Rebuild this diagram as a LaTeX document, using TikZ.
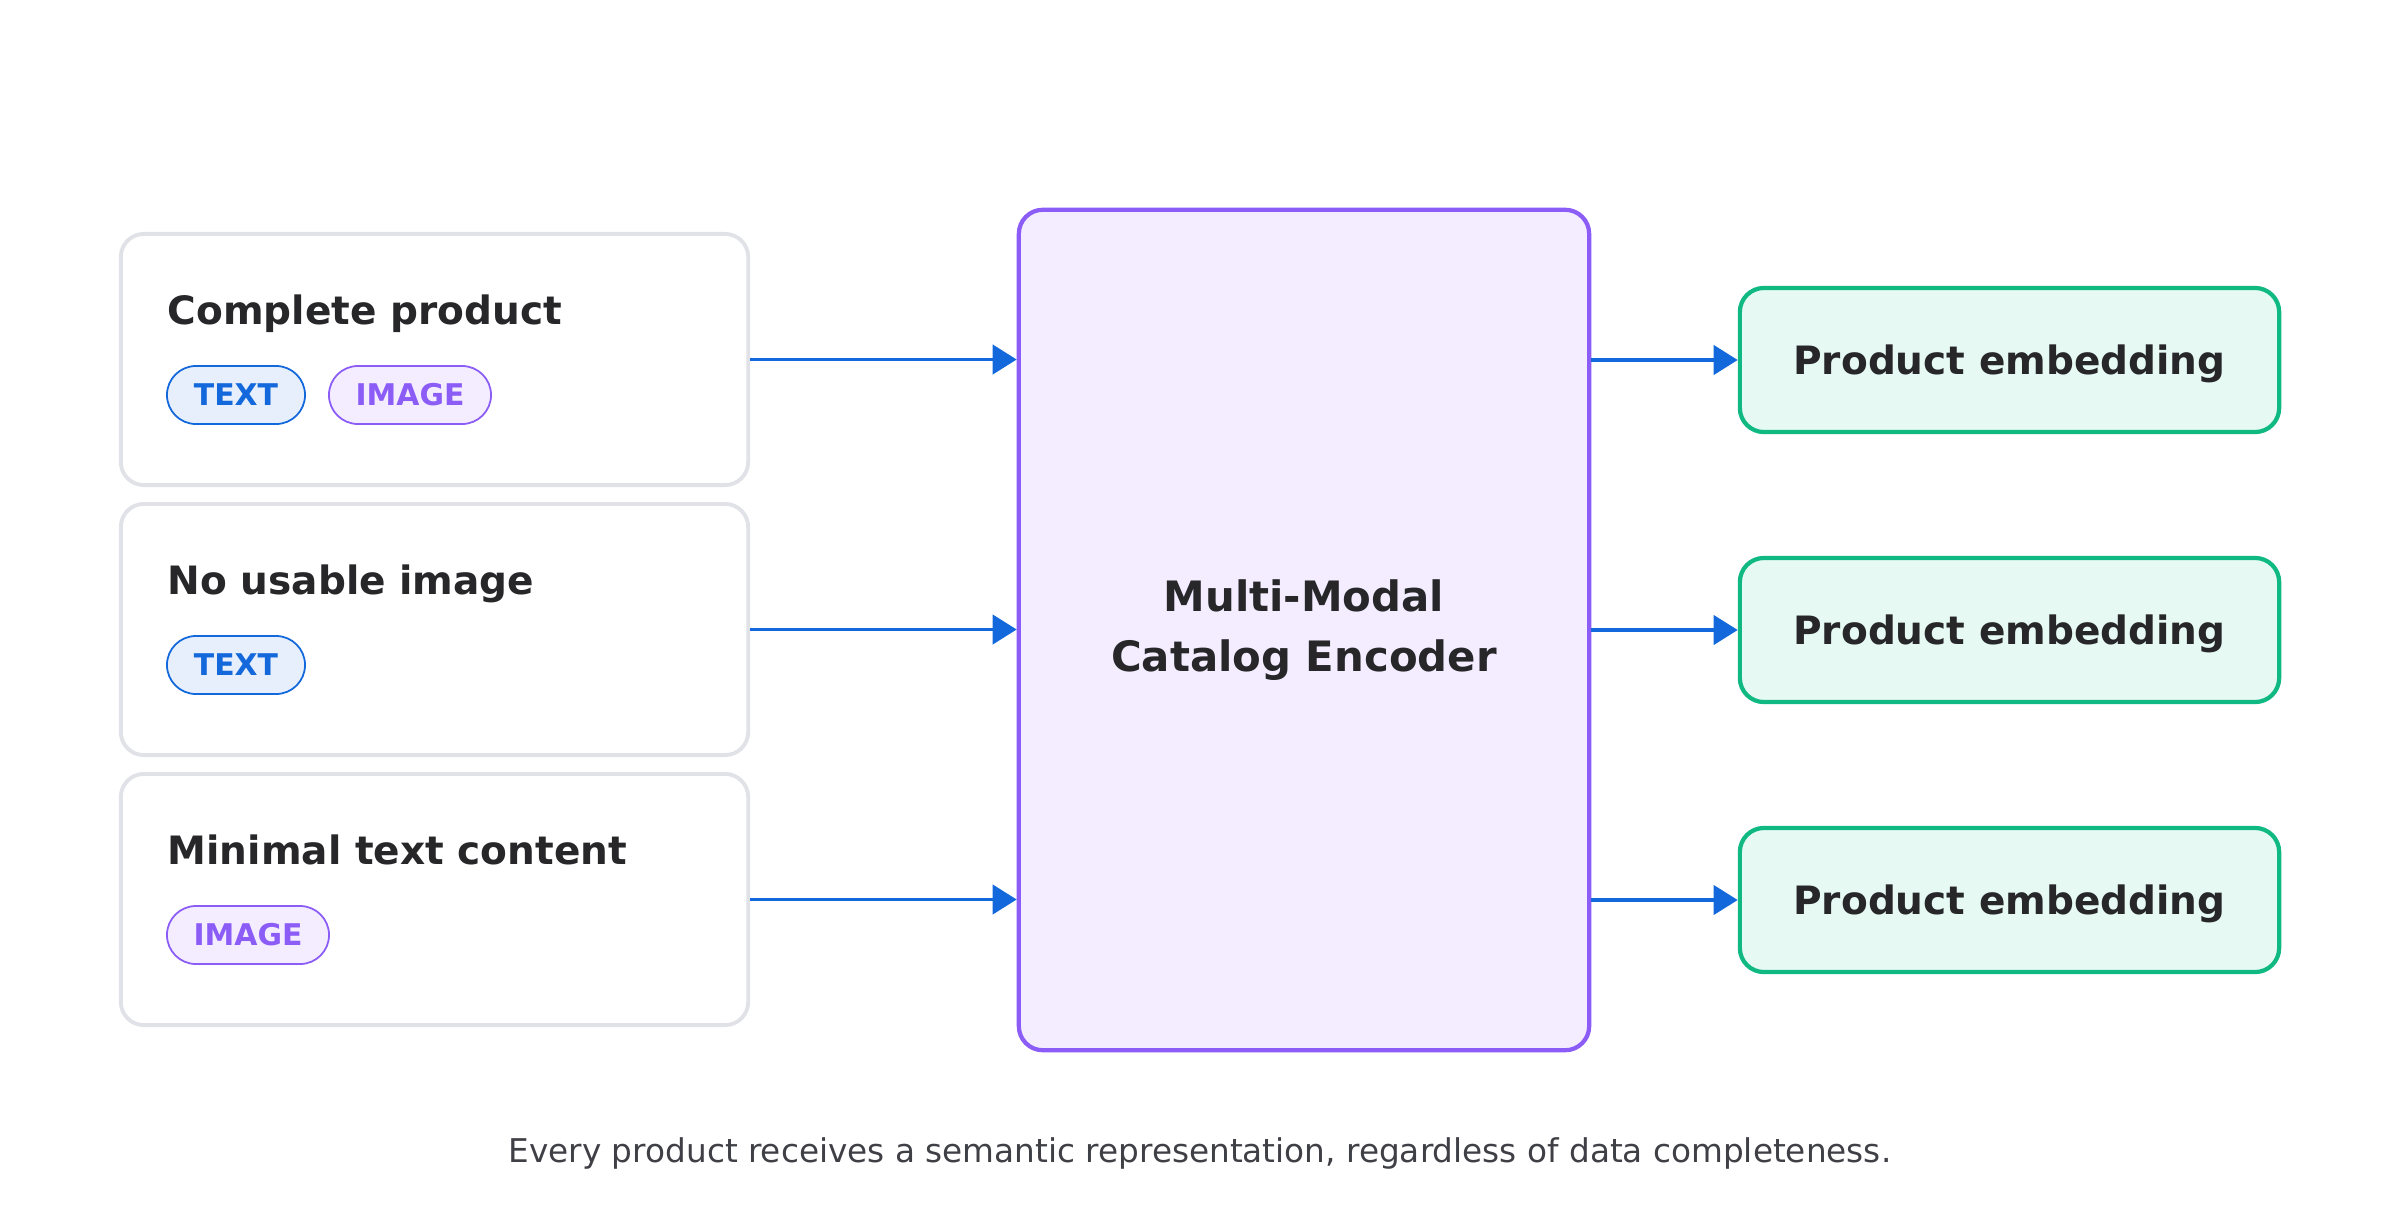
\documentclass[tikz,border=0pt]{standalone}
\usepackage{fontspec}
\setmainfont{DejaVu Sans}
\usepackage{tikz}
\usetikzlibrary{arrows.meta}
\definecolor{inkdark}{RGB}{39,39,42}
\definecolor{capgray}{RGB}{63,63,70}
\definecolor{boxgray}{RGB}{224,226,231}
\definecolor{flowblue}{RGB}{19,104,219}
\definecolor{tagbluefill}{RGB}{230,239,251}
\definecolor{encpurple}{RGB}{139,92,246}
\definecolor{encfill}{RGB}{243,237,255}
\definecolor{embgreen}{RGB}{16,185,129}
\definecolor{embfill}{RGB}{230,250,243}

\begin{document}
\begin{tikzpicture}[x=0.01cm,y=-0.01cm,
  inbox/.style={draw=boxgray,line width=1.1pt,fill=white,rounded corners=0.23cm,minimum width=6.27cm,minimum height=2.51cm},
  title/.style={inkdark,font=\fontsize{11.1}{13}\selectfont\bfseries,anchor=base west,inner sep=0pt},
  pill/.style={line width=0.5pt,rounded corners=0.29cm,minimum height=0.58cm,inner sep=0pt,font=\fontsize{8.5}{10}\selectfont\bfseries},
  texttag/.style={pill,draw=flowblue,fill=tagbluefill,text=flowblue,minimum width=1.38cm},
  imagetag/.style={pill,draw=encpurple,fill=encfill,text=encpurple,minimum width=1.62cm},
  encoder/.style={draw=encpurple,fill=encfill,line width=1.2pt,rounded corners=0.24cm,minimum width=5.7cm,minimum height=8.4cm,align=center,text=inkdark,font=\fontsize{11.9}{17}\selectfont\bfseries},
  embed/.style={draw=embgreen,fill=embfill,line width=1.2pt,rounded corners=0.24cm,minimum width=5.39cm,minimum height=1.44cm,text depth=0pt,text=inkdark,font=\fontsize{11.1}{13}\selectfont\bfseries},
  flow/.style={flowblue,line width=1.1pt,-{Triangle[length=0.24cm,width=0.29cm]}}]
  \useasboundingbox (0,0) rectangle (2400,1230);
  % input cases
  \node[inbox] (in1) at (434.5,359.5) {};
  \node[inbox] (in2) at (434.5,629.5) {};
  \node[inbox] (in3) at (434.5,899.5) {};
  \node[title] (t1) at (167,324) {Complete product};
  \node[title] (t2) at (167,594) {No usable image};
  \node[title] (t3) at (167,864) {Minimal text content};
  \node[texttag] (tag1a) at (236,395) {TEXT};
  \node[imagetag] (tag1b) at (410,395) {IMAGE};
  \node[texttag] (tag2a) at (236,665) {TEXT};
  \node[imagetag] (tag3a) at (248,935) {IMAGE};
  % encoder
  \node[encoder] (enc) at (1304,630) {Multi-Modal\\Catalog Encoder};
  % outputs
  \node[embed] (out1) at (2009.5,360) {Product embedding};
  \node[embed] (out2) at (2009.5,630) {Product embedding};
  \node[embed] (out3) at (2009.5,900) {Product embedding};
  % arrows
  \draw[flow] (in1.east) -- (in1.east -| enc.west);
  \draw[flow] (in2.east) -- (in2.east -| enc.west);
  \draw[flow] (in3.east) -- (in3.east -| enc.west);
  \draw[flow] (enc.east |- out1.west) -- (out1.west);
  \draw[flow] (enc.east |- out2.west) -- (out2.west);
  \draw[flow] (enc.east |- out3.west) -- (out3.west);
  % caption
  \node[capgray,font=\fontsize{9.3}{11}\selectfont] (cap) at (1200,1153) {Every product receives a semantic representation, regardless of data completeness.};
\end{tikzpicture}
\end{document}
